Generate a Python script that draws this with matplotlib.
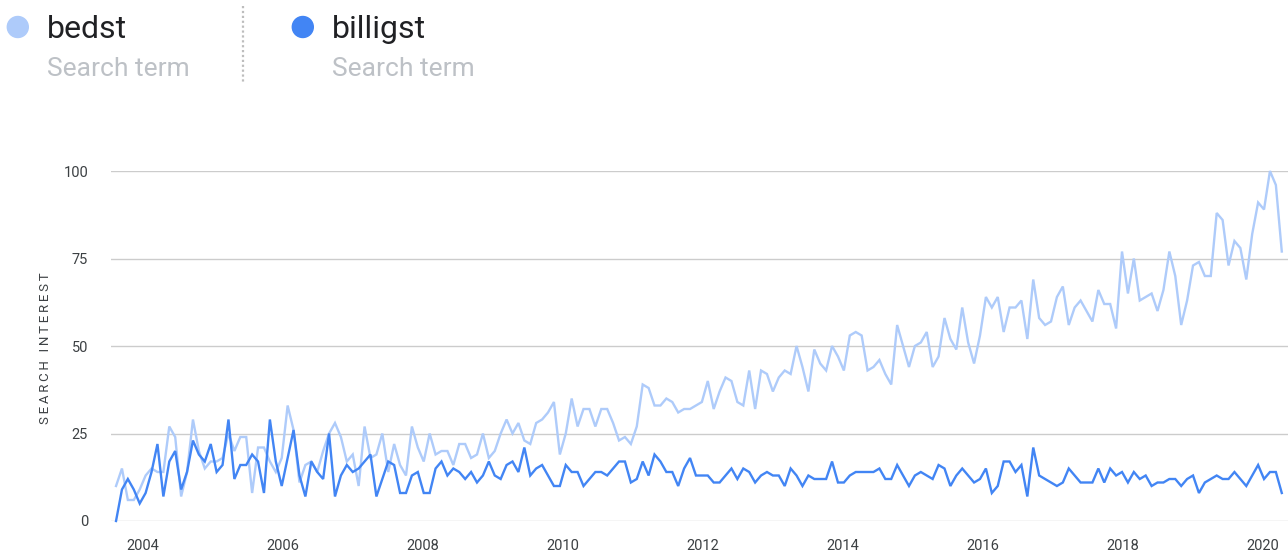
import numpy as np
import matplotlib
matplotlib.use('Agg')
import matplotlib.pyplot as plt
from matplotlib.patches import Circle
from matplotlib.lines import Line2D

# Google Trends style comparison, monthly values 2004-01 .. 2020-06
terms = ['bedst', 'billigst']
colors = ['#aecbfa', '#4285f4']

bedst = [10, 15, 6, 6, 9, 13, 15, 14, 14, 27, 24, 7, 14, 29, 20, 15, 17, 17, 18, 25,
         20, 24, 24, 8, 21, 21, 17, 14, 18, 33, 26, 11, 16,
         17, 14, 20, 25, 28, 24, 17, 19, 10, 27, 18, 19, 25, 14, 22, 16, 13, 27,
         21, 17, 25, 19, 20, 20, 16, 22, 22, 18, 19, 25, 18, 20, 25,
         29, 25, 28, 23, 22, 28, 29, 31, 34, 19, 25, 35, 27, 32, 32, 27, 32, 32,
         28, 23, 24, 22, 27, 39, 38, 33, 33, 35, 34, 31, 32, 32,
         33, 34, 40, 32, 37, 41, 40, 34, 33, 43, 32, 43, 42, 37, 41, 43, 42, 50,
         44, 37, 49, 45, 43, 50, 47, 43, 53, 54, 53, 43, 44, 46, 42,
         39, 56, 50, 44, 50, 51, 54, 44, 47, 58, 52, 49, 61, 51, 45, 53, 64, 61,
         64, 54, 61, 61, 63, 52, 69, 58, 56, 57, 64, 67, 56, 61, 63,
         60, 57, 66, 62, 62, 55, 77, 65, 75, 63, 64, 65, 60, 66, 77, 70, 56, 63,
         73, 74, 70, 70, 88, 86, 73, 80, 78, 69, 82, 91, 89, 100, 96, 77]

billigst = [0, 9, 12, 9, 5, 8, 14, 22, 7, 17, 20, 9, 14, 23, 19, 17, 22, 14, 16, 29,
            12, 16, 16, 19, 17, 8, 29, 17, 10, 18, 26, 13, 7,
            17, 14, 12, 25, 7, 13, 16, 14, 15, 17, 19, 7, 12, 17, 16, 8, 8, 13,
            14, 8, 8, 15, 17, 13, 15, 14, 12, 14, 11, 13, 17, 13, 12,
            16, 17, 14, 21, 13, 15, 16, 13, 10, 10, 16, 14, 14, 10, 12, 14, 14, 13,
            15, 17, 17, 11, 12, 17, 13, 19, 17, 14, 14, 10, 15, 18,
            13, 13, 13, 11, 11, 13, 15, 12, 15, 14, 11, 13, 14, 13, 13, 10, 15, 13,
            10, 13, 12, 12, 12, 17, 11, 11, 13, 14, 14, 14, 14, 15, 12,
            12, 16, 13, 10, 13, 14, 13, 12, 16, 15, 10, 13, 15, 13, 11, 12, 15, 8,
            10, 17, 17, 14, 16, 7, 21, 13, 12, 11, 10, 11, 15, 13, 11,
            11, 11, 15, 11, 15, 13, 14, 11, 14, 12, 13, 10, 11, 11, 12, 12, 10, 12,
            13, 8, 11, 12, 13, 12, 12, 14, 12, 10, 13, 16, 12, 14, 14, 8]

year_labels = ['2004', '2006', '2008', '2010', '2012', '2014', '2016', '2018', '2020']
year_ticks = [4.5, 28.2, 51.8, 75.5, 99.2, 122.8, 146.5, 170.1, 193.8]
y_ticks = [0, 25, 50, 75, 100]

plt.rcParams['font.family'] = ['Roboto', 'DejaVu Sans']

W, H = 1288, 556
fig = plt.figure(figsize=(W / 100, H / 100), dpi=100)
ax = fig.add_axes([111 / W, 35 / H, 1177 / W, 350 / H])

x = np.arange(len(bedst))
for values, color in zip([bedst, billigst], colors):
    ax.plot(x, values, color=color, lw=1.7, clip_on=False, zorder=3,
            solid_joinstyle='miter')

ax.set_xlim(-0.85, 198.05)
ax.set_ylim(0, 100)
ax.set_yticks(y_ticks)
ax.set_yticklabels([str(v) for v in y_ticks])
ax.set_xticks(year_ticks)
ax.set_xticklabels(year_labels)
ax.yaxis.grid(True, color='#cccccc', lw=1)
ax.set_axisbelow(True)
for s in ax.spines.values():
    s.set_visible(False)
ax.tick_params(axis='y', length=0, pad=16.5, labelsize=10.5, labelcolor='#3c4043')
ax.tick_params(axis='x', length=0, pad=13, labelsize=10.5, labelcolor='#3c4043')

# rotated axis title with letter spacing
label = '\u2009'.join('SEARCH INTEREST')
fig.text(46 / W, 1 - 348 / H, label, rotation=90, ha='center', va='center',
         fontsize=9.5, color='#3c4043')

# header legend
def px(xp, yp):
    return xp / 100, (H - yp) / 100

for cx, term, color in zip([17.8, 302.8], terms, colors):
    fig.add_artist(Circle(px(cx, 27), 0.105, transform=fig.dpi_scale_trans,
                          color=color))
    tx = cx + 29
    fig.text(tx / W, 1 - 38 / H, term, fontsize=23, color='#202124',
             ha='left', va='baseline')
    fig.text(tx / W, 1 - 76 / H, 'Search term', fontsize=19, color='#bdc1c6',
             ha='left', va='baseline')

fig.add_artist(Line2D([242.7 / W, 242.7 / W], [1 - 6 / H, 1 - 84 / H],
                      color='#bdbdbd', lw=1.6, linestyle=(0, (1, 1.2))))

fig.savefig('out.png', dpi=100)
